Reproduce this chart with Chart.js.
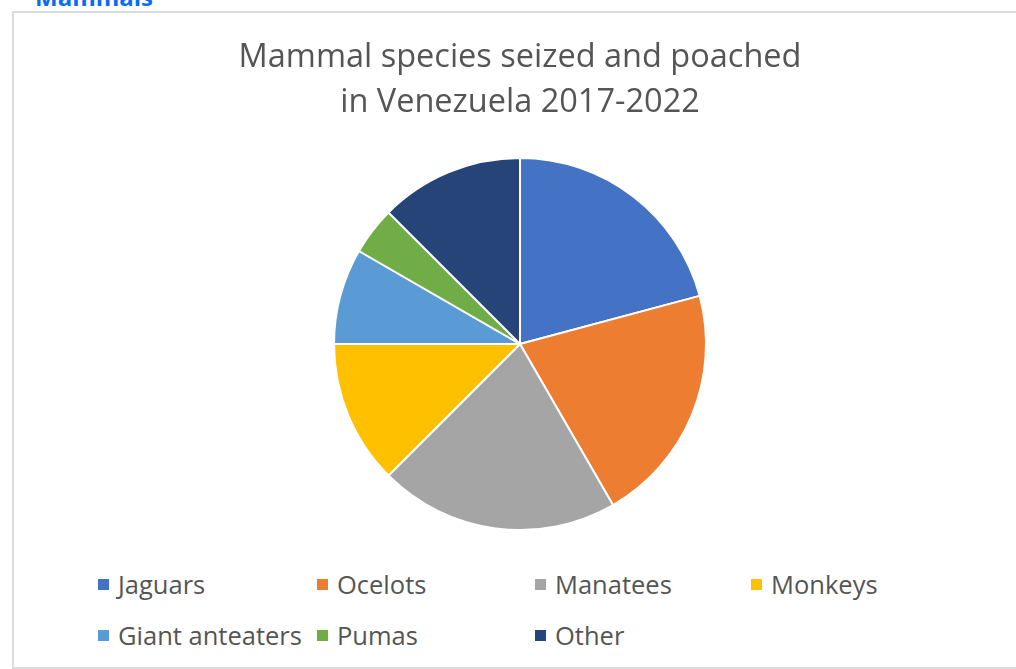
<!DOCTYPE html>
<html>
<head>
<meta charset="utf-8">
<script src="https://cdn.jsdelivr.net/npm/chart.js@4.4.1/dist/chart.umd.min.js"></script>
<style>
  html, body { margin: 0; padding: 0; background: #fff; overflow: hidden; }
  body { width: 1016px; height: 669px; position: relative; font-family: "Open Sans", sans-serif; }
  .heading { position: absolute; left: 35px; top: -15px; font-size: 24px; font-weight: bold; color: #0b6cf2; line-height: 1; }
  .frame { position: absolute; left: 12px; top: 11px; width: 1020px; height: 654px; border: 2px solid #dcdcdc; border-right: none; }
  .wrap { position: absolute; left: 24px; top: 14px; width: 992px; height: 517px; }
  .legend { position: absolute; left: 0; top: 0; }
  .item { position: absolute; display: flex; align-items: center; font-size: 25.5px; color: #555; white-space: nowrap; }
  .box { width: 11px; height: 11px; margin-right: 9px; }
</style>
</head>
<body>
<div class="heading">Mammals</div>
<div class="frame"></div>
<div class="wrap"><canvas id="pieChart"></canvas></div>
<div class="legend" id="legend"></div>
<script>
const categories = ["Jaguars", "Ocelots", "Manatees", "Monkeys", "Giant anteaters", "Pumas", "Other"];
const seized = [10, 10, 10, 6, 4, 2, 6];
const colors = ["#4472C4", "#ED7D31", "#A5A5A5", "#FFC000", "#5B9BD5", "#70AD47", "#264478"];

new Chart(document.getElementById("pieChart"), {
  type: "pie",
  data: {
    labels: categories,
    datasets: [{
      data: seized,
      backgroundColor: colors,
      borderColor: "#fff",
      borderWidth: 2
    }]
  },
  options: {
    responsive: true,
    maintainAspectRatio: false,
    animation: false,
    layout: { padding: 0 },
    plugins: {
      legend: { display: false },
      tooltip: { enabled: false },
      title: {
        display: true,
        text: ["Mammal species seized and poached", "in Venezuela 2017-2022"],
        color: "#555",
        font: { family: "Open Sans", size: 32.5, weight: "normal", lineHeight: 45 / 32.5 },
        padding: { top: 21, bottom: 32 }
      }
    }
  }
});

// legend laid out as a grid like the original
const legend = document.getElementById("legend");
const colX = [98, 317, 535, 751];
const rowY = [584, 635];
categories.forEach(function(name, i) {
  const item = document.createElement("div");
  item.className = "item";
  item.style.left = colX[i % 4] + "px";
  item.style.top = (rowY[Math.floor(i / 4)] - 17) + "px";
  item.style.height = "34px";
  const box = document.createElement("span");
  box.className = "box";
  box.style.background = colors[i];
  item.appendChild(box);
  item.appendChild(document.createTextNode(name));
  legend.appendChild(item);
});
</script>
</body>
</html>
